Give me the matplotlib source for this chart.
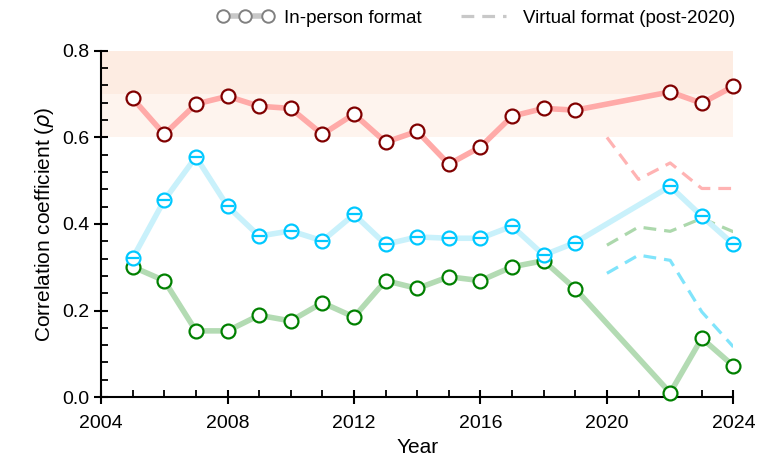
import matplotlib
matplotlib.use("Agg")
import matplotlib.pyplot as plt
from matplotlib.lines import Line2D
from matplotlib.ticker import MultipleLocator, FormatStrFormatter

plt.rcParams['font.family'] = ['Liberation Sans', 'DejaVu Sans']

## in-person years (no 2020 / 2021)
years = [2005, 2006, 2007, 2008, 2009, 2010, 2011, 2012, 2013, 2014,
         2015, 2016, 2017, 2018, 2019, 2022, 2023, 2024]
red_vals = [0.690, 0.607, 0.677, 0.695, 0.672, 0.667, 0.607, 0.654, 0.589, 0.614,
            0.538, 0.578, 0.649, 0.667, 0.663, 0.705, 0.679, 0.718]
cyan_vals = [0.321, 0.455, 0.555, 0.441, 0.372, 0.384, 0.361, 0.422, 0.353, 0.370,
             0.367, 0.367, 0.395, 0.328, 0.357, 0.487, 0.418, 0.353]
green_vals = [0.301, 0.269, 0.153, 0.153, 0.189, 0.176, 0.218, 0.185, 0.269, 0.251,
              0.278, 0.269, 0.301, 0.315, 0.250, 0.010, 0.136, 0.072]

## virtual format
v_years = [2020, 2021, 2022, 2023, 2024]
red_virtual = [0.600, 0.503, 0.541, 0.482, 0.482]
cyan_virtual = [0.286, 0.328, 0.316, 0.197, 0.116]
green_virtual = [0.351, 0.393, 0.383, 0.413, 0.382]

fig = plt.figure(figsize=(7.6, 4.75), dpi=100)
ax = fig.add_axes([0.133, 0.164, 0.832, 0.729])

# shaded band
ax.axhspan(0.6, 0.8, xmin=0, xmax=1, color='#fef4ee', zorder=0, lw=0)
ax.axhspan(0.7, 0.8, xmin=0, xmax=1, color='#fdece2', zorder=0, lw=0)

# virtual dashed lines
ax.plot(v_years, red_virtual, '--', color='#ffb3b3', lw=2.3, dashes=(4, 2.5), zorder=2)
ax.plot(v_years, green_virtual, '--', color='#acd8ac', lw=2.3, dashes=(4, 2.5), zorder=2)
ax.plot(v_years, cyan_virtual, '--', color='#80e4fb', lw=2.3, dashes=(4, 2.5), zorder=2)

# in-person lines
ms = 10
ax.plot(years, green_vals, '-', color='#b3dbb3', lw=4, zorder=3)
ax.plot(years, green_vals, 'o', mfc='white', mec='#008000', mew=1.6, ms=ms, zorder=4, clip_on=False)
ax.plot(years, cyan_vals, '-', color='#c9f1fb', lw=4, zorder=3)
ax.plot(years, cyan_vals, 'o', mfc='white', mec='#00c8ff', mew=1.6, ms=ms, zorder=4, clip_on=False)
ax.plot(years, cyan_vals, '_', mec='#00c8ff', mew=1.6, ms=ms - 1, zorder=5, clip_on=False)
ax.plot(years, red_vals, '-', color='#ffaaa8', lw=4, zorder=3)
ax.plot(years, red_vals, 'o', mfc='white', mec='#800000', mew=1.6, ms=ms, zorder=4, clip_on=False)

ax.set_xlim(2004, 2024)
ax.set_ylim(0, 0.8)
ax.spines['top'].set_visible(False)
ax.spines['right'].set_visible(False)
ax.spines['left'].set_linewidth(1.5)
ax.spines['bottom'].set_linewidth(1.5)

ax.xaxis.set_major_locator(MultipleLocator(4))
ax.xaxis.set_minor_locator(MultipleLocator(1))
ax.yaxis.set_major_locator(MultipleLocator(0.2))
ax.yaxis.set_minor_locator(MultipleLocator(0.04))
ax.yaxis.set_major_formatter(FormatStrFormatter('%.1f'))
ax.tick_params(which='major', direction='inout', length=10, width=1.5, labelsize=14)
ax.tick_params(which='minor', direction='in', length=5, width=1.3)
ax.tick_params(axis='x', which='major', pad=8)

ax.set_xlabel('Year', fontsize=15)
ax.set_ylabel(r'Correlation coefficient ($\rho$)', fontsize=15)

handles = [
    Line2D([], [], color='#c8c8c8', lw=4, marker='o', mfc='white', mec='#808080', mew=1.4, ms=9),
    Line2D([], [], color='#c8c8c8', lw=2.3, ls='--', dashes=(4, 2.5)),
]
fig.legend(handles, ['In-person format', 'Virtual format (post-2020)'],
           loc='upper right', bbox_to_anchor=(0.99, 1.015), ncol=2, frameon=False,
           numpoints=3, fontsize=13.5, handlelength=3, handletextpad=0.6, columnspacing=1.8)

fig.savefig('out.png', dpi=100)
